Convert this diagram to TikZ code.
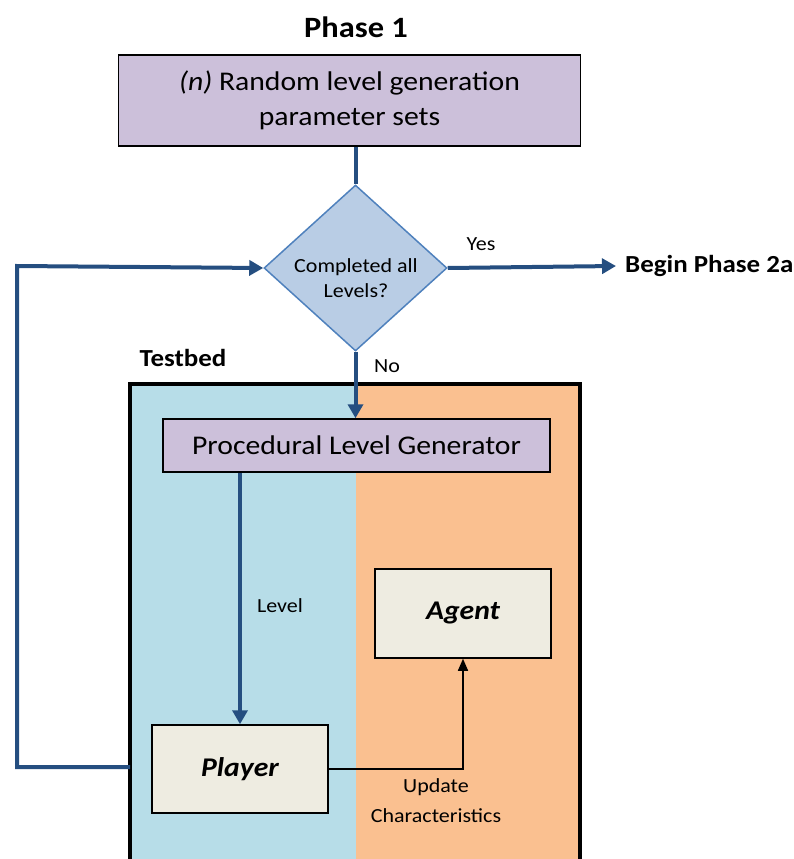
\documentclass[tikz,border=0pt]{standalone}
\usepackage{fontspec}
\setmainfont{Carlito}[FakeStretch=1.1]
\usetikzlibrary{shapes.geometric,arrows.meta}
\definecolor{lav}{HTML}{CCC0DA}
\definecolor{dblue}{HTML}{B9CDE5}
\definecolor{dborder}{HTML}{4F81BD}
\definecolor{conn}{HTML}{254E80}
\definecolor{lblue}{HTML}{B7DDE8}
\definecolor{lorange}{HTML}{FAC090}
\definecolor{beige}{HTML}{EEECE1}
\tikzset{
  lavbox/.style={draw=black,line width=1.5pt,fill=lav,inner sep=0pt,align=center},
  beigebox/.style={draw=black,line width=1.5pt,fill=beige,inner sep=0pt,font=\fontsize{27}{30}\selectfont\bfseries\itshape},
  blueconn/.style={draw=conn,line width=4pt},
  bluearrow/.style={blueconn,-{Triangle[length=14pt,width=15pt]}},
  lbl/.style={font=\fontsize{20}{24}\selectfont,inner sep=0pt},
  title/.style={font=\fontsize{24.5}{28}\selectfont\bfseries,inner sep=0pt}
}
\begin{document}
\begin{tikzpicture}[x=1pt,y=-1pt]
\useasboundingbox (0,0) rectangle (794,859);
% testbed background
\fill[lblue] (130,384) rectangle (356,870);
\fill[lorange] (356,384) rectangle (580,870);
\draw[line width=3.5pt] (130,870) -- (130,384) -- (580,384) -- (580,870);
\node[title,font=\fontsize{29.5}{32}\selectfont\bfseries] (ph1) at (356,27) {Phase 1};
\node[lavbox,minimum width=462pt,minimum height=91pt,font=\fontsize{27}{35}\selectfont] (top) at (349.5,100.5) {\textit{(n)} Random level generation\\parameter sets};
\node[diamond,draw=dborder,line width=1.5pt,fill=dblue,minimum width=183pt,minimum height=166pt,inner sep=0pt,aspect=1.1] (dia) at (355.5,268) {};
\node[lbl,align=center,font=\fontsize{20}{25}\selectfont] (diatext) at (356,278) {Completed all\\Levels?};
\node[lavbox,minimum width=387pt,minimum height=53pt,font=\fontsize{27}{30}\selectfont] (plg) at (356.5,445.5) {Procedural Level Generator};
\node[beigebox,minimum width=176pt,minimum height=89pt] (agent) at (463,613.5) {Agent};
\node[beigebox,minimum width=176pt,minimum height=88pt] (player) at (240,769) {Player};
\node[title,anchor=west] (p2a) at (625,266) {Begin Phase 2a};
\node[title] (tb) at (183,358) {Testbed};
\node[lbl] (yes) at (481,244) {Yes};
\node[lbl] (no) at (387,366) {No};
\node[lbl] (lvl) at (280,606) {Level};
\node[lbl,align=center,font=\fontsize{20}{30}\selectfont] (upd) at (436,801) {Update\\Characteristics};
\coordinate (tbl) at (130,767);
\coordinate (c1) at (17,767);
\coordinate (c2) at (17,266);
\coordinate (rt) at (616,266);
\draw[blueconn] (dia.north |- top.south) -- (dia.north);
\draw[bluearrow] (dia.east) -- (rt);
\draw[bluearrow] (dia.south) -- (plg.north -| dia.south);
\draw[bluearrow] (tbl) -- (c1) -- (c2) -- (dia.west);
\draw[bluearrow] (plg.south -| player.north) -- (player.north);
\draw[line width=1.5pt,-{Triangle[length=12pt,width=10pt]}] (player.east) -| (agent.south);
\end{tikzpicture}
\end{document}
